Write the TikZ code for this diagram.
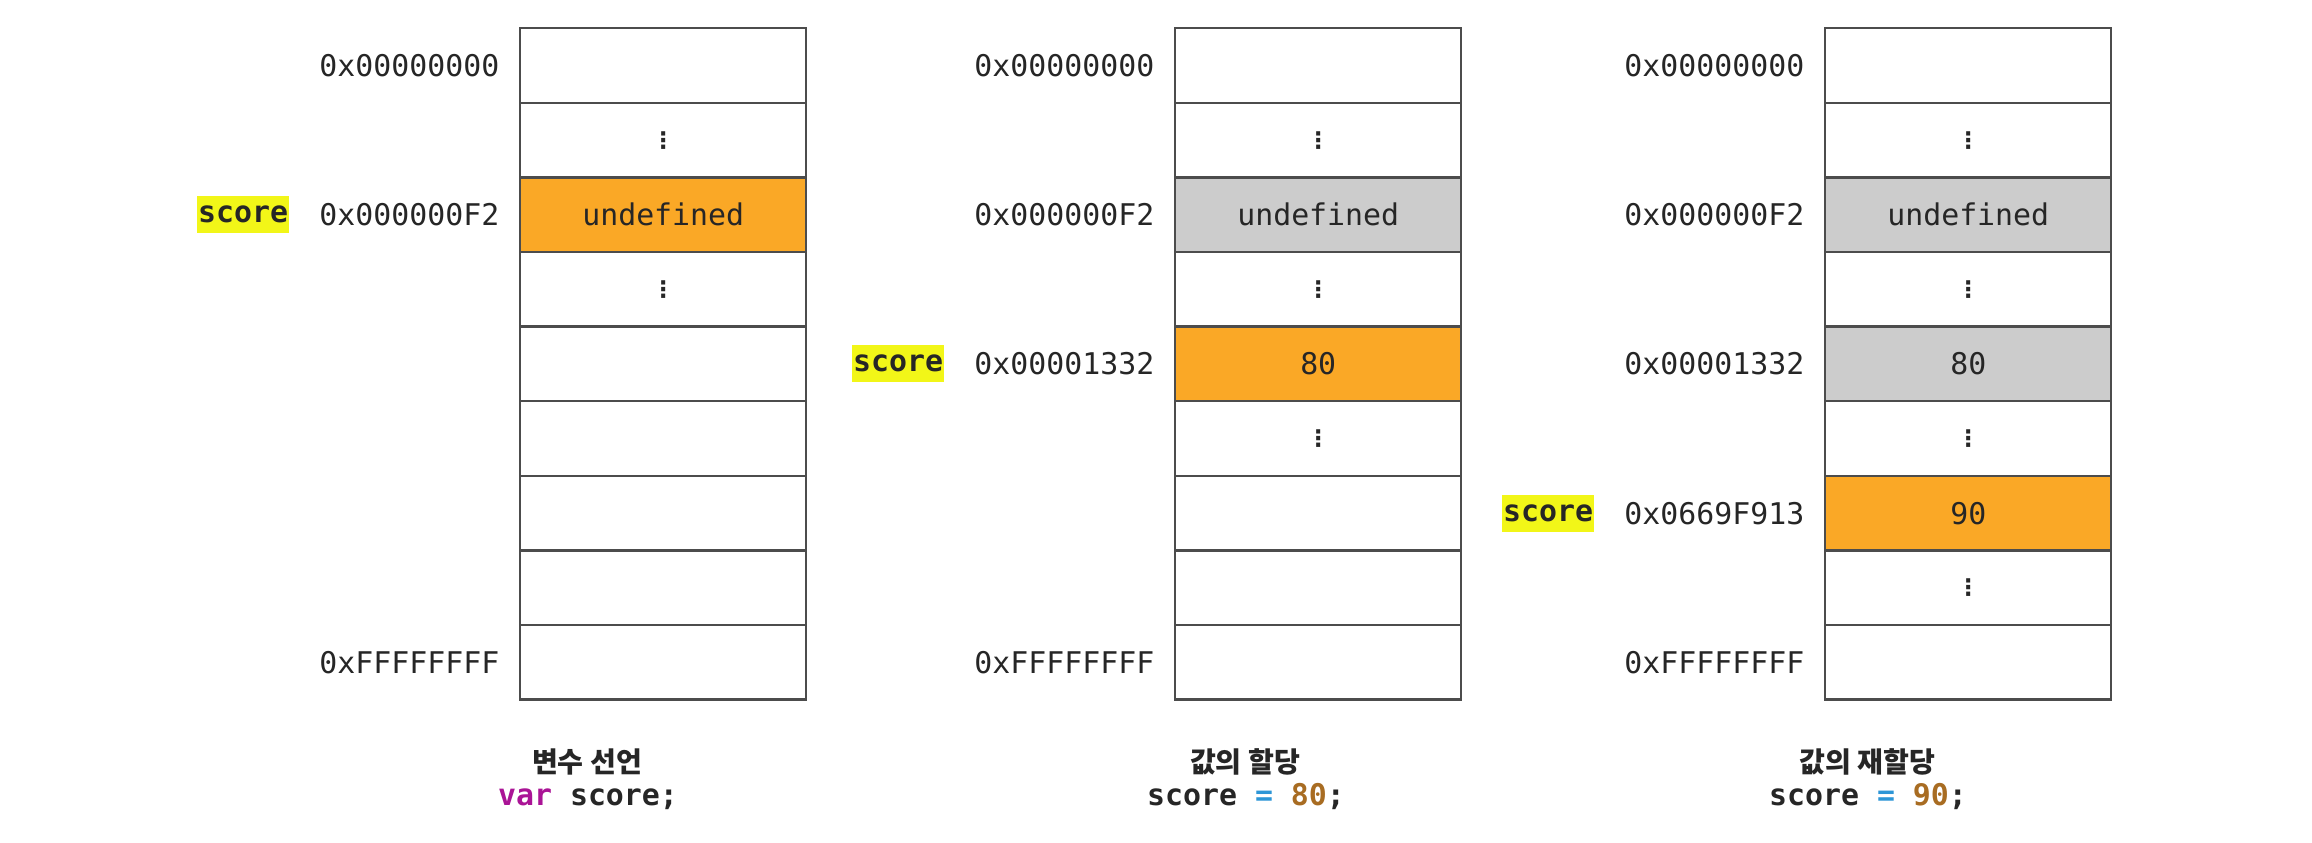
\documentclass[tikz,border=0pt]{standalone}
\usepackage{fontspec}
\setmainfont{DejaVu Sans}
\setmonofont{DejaVu Sans Mono}
\newfontfamily\hangulfont{Noto Sans CJK KR}
\usepackage{xcolor}
\usepackage{tikz}
\usetikzlibrary{positioning}
\definecolor{heaporange}{RGB}{250,168,38}
\definecolor{oldgray}{RGB}{204,204,204}
\definecolor{markyellow}{RGB}{242,246,24}
\definecolor{kwpurple}{RGB}{170,20,150}
\definecolor{opblue}{RGB}{45,150,215}
\definecolor{numbrown}{RGB}{168,108,34}

\begin{document}
\begin{tikzpicture}[
  every node/.style={font=\ttfamily\fontsize{8.5}{10}\selectfont, text=black!85},
  cell/.style={draw=black!70, line width=0.7pt, minimum width=2.86cm, minimum height=0.746cm, inner sep=0pt, anchor=north west},
  addr/.style={inner sep=0pt},
  varmark/.style={fill=markyellow, font=\ttfamily\bfseries\fontsize{8.5}{10}\selectfont, inner xsep=0.01cm, inner ysep=0.045cm, text height=0.22cm, text depth=0.06cm},
  dots/.style={font=\rmfamily\bfseries\fontsize{6.5}{8}\selectfont},
  caption/.style={anchor=base, font=\hangulfont\bfseries\fontsize{8}{10}\selectfont},
  code/.style={anchor=base, font=\ttfamily\bfseries\fontsize{8.5}{10}\selectfont}
]
\fill[white] (0,0) rectangle (23.12,8.42);

% memory cells
\foreach \col/\x in {a/5.19, b/11.74, c/18.24}
  \foreach \r in {0,...,8}
    \node[cell] (\col\r) at (\x, 8.15-0.746*\r) {};

\node[cell, fill=heaporange] (aval) at (a2.north west) {undefined};
\node[cell, fill=oldgray] (bold) at (b2.north west) {undefined};
\node[cell, fill=heaporange] (bval) at (b4.north west) {80};
\node[cell, fill=oldgray] (cold) at (c2.north west) {undefined};
\node[cell, fill=oldgray] (cold2) at (c4.north west) {80};
\node[cell, fill=heaporange] (cval) at (c6.north west) {90};

\foreach \n in {a1,a3,b1,b3,b5,c1,c3,c5,c7}
  \node[dots] at (\n) {⋮};

% addresses
\node[addr, left=0.19cm of a0] (a0addr) {0x00000000};
\node[addr, left=0.19cm of a2] (a2addr) {0x000000F2};
\node[addr, left=0.19cm of a8] (a8addr) {0xFFFFFFFF};
\node[addr, left=0.19cm of b0] (b0addr) {0x00000000};
\node[addr, left=0.19cm of b2] (b2addr) {0x000000F2};
\node[addr, left=0.19cm of b4] (b4addr) {0x00001332};
\node[addr, left=0.19cm of b8] (b8addr) {0xFFFFFFFF};
\node[addr, left=0.19cm of c0] (c0addr) {0x00000000};
\node[addr, left=0.19cm of c2] (c2addr) {0x000000F2};
\node[addr, left=0.19cm of c4] (c4addr) {0x00001332};
\node[addr, left=0.19cm of c6] (c6addr) {0x0669F913};
\node[addr, left=0.19cm of c8] (c8addr) {0xFFFFFFFF};

% variable name
\node[varmark, left=0.29cm of a2addr] (avar) {score};
\node[varmark, left=0.29cm of b4addr] (bvar) {score};
\node[varmark, left=0.29cm of c6addr] (cvar) {score};

% captions
\node[caption] (acap) at (5.87,0.70) {변수 선언};
\node[code] (acode) at (5.88,0.37) {\textcolor{kwpurple}{var} score;};
\node[caption] (bcap) at (12.45,0.70) {값의 할당};
\node[code] (bcode) at (12.46,0.37) {score \textcolor{opblue}{=} \textcolor{numbrown}{80};};
\node[caption] (ccap) at (18.67,0.70) {값의 재할당};
\node[code] (ccode) at (18.68,0.37) {score \textcolor{opblue}{=} \textcolor{numbrown}{90};};
\end{tikzpicture}
\end{document}
